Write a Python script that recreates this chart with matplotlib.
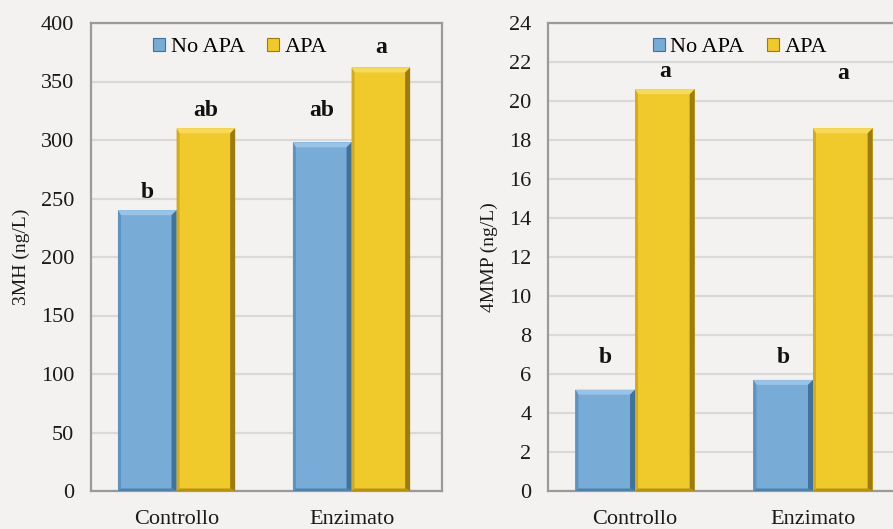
import matplotlib
matplotlib.use("Agg")
import matplotlib.pyplot as plt
from matplotlib.patches import Polygon, Patch
import numpy as np

plt.rcParams["font.family"] = ["Liberation Serif", "DejaVu Serif"]

categories = ["Controllo", "Enzimato"]
series_names = ["No APA", "APA"]

mh3_no_apa = [240, 298]
mh3_apa = [310, 362]
mh3_letters_no_apa = ["b", "ab"]
mh3_letters_apa = ["ab", "a"]
mh3_letter_y_no_apa = [255, 325]
mh3_letter_y_apa = [325, 379]

mmp4_no_apa = [5.2, 5.7]
mmp4_apa = [20.6, 18.6]
mmp4_letters_no_apa = ["b", "b"]
mmp4_letters_apa = ["a", "a"]
mmp4_letter_y_no_apa = [6.85, 6.85]
mmp4_letter_y_apa = [21.5, 21.4]

BG = "#f3f2f0"
BLUE = dict(face="#78acd6", top="#98c3e6", left="#5d93c0", right="#3f729d", bottom="#4d82ad")
GOLD = dict(face="#f0ca2a", top="#f6da58", left="#d4ab1c", right="#9c7b12", bottom="#b8920f")

W, H = 893, 529
fig = plt.figure(figsize=(W / 100, H / 100), dpi=100, facecolor=BG)


def bevel(ax, bars, pal, b=5):
    fig.canvas.draw()
    bb = ax.get_window_extent()
    x0, x1 = ax.get_xlim()
    y0, y1 = ax.get_ylim()
    sx = (x1 - x0) / bb.width
    sy = (y1 - y0) / bb.height
    dx, dy = b * sx, b * sy
    for r in bars:
        x, w, h = r.get_x(), r.get_width(), r.get_height()
        xl, xr = x, x + w
        polys = [
            ([(xl, h), (xr, h), (xr - dx, h - dy), (xl + dx * 0.6, h - dy)], pal["top"]),
            ([(xl, h), (xl, 0), (xl + dx * 0.6, dy * 0.5), (xl + dx * 0.6, h - dy)], pal["left"]),
            ([(xr, h), (xr, 0), (xr - dx, dy * 0.5), (xr - dx, h - dy)], pal["right"]),
            ([(xl, 0), (xr, 0), (xr - dx, dy * 0.5), (xl + dx * 0.6, dy * 0.5)], pal["bottom"]),
        ]
        for pts, c in polys:
            ax.add_patch(Polygon(pts, closed=True, facecolor=c, edgecolor="none", zorder=3))


def panel(rect, no_apa, apa, ymax, ystep, ylabel, letters, letter_y, xlim, leg_x, ypad):
    ax = fig.add_axes(rect, facecolor=BG)
    x = np.arange(len(categories))
    w = 0.335
    b1 = ax.bar(x - w / 2, no_apa, w, color=BLUE["face"], zorder=2)
    b2 = ax.bar(x + w / 2, apa, w, color=GOLD["face"], zorder=2)
    ax.set_xlim(*xlim)
    ax.set_ylim(0, ymax)
    ax.set_yticks(np.arange(0, ymax + ystep / 2, ystep))
    ax.yaxis.grid(True, color="#d9d9d9", lw=1.6, zorder=0)
    ax.set_axisbelow(True)
    ax.set_xticks(x)
    ax.set_xticklabels(categories, fontsize=16)
    ax.tick_params(length=0, labelsize=16, colors="#1a1a1a")
    ax.tick_params(axis="y", pad=ypad)
    ax.tick_params(axis="x", pad=14)
    for s in ax.spines.values():
        s.set_color("#9a9a9a")
        s.set_linewidth(1.6)
    ax.set_ylabel(ylabel, fontsize=14, color="#1a1a1a", labelpad=8)
    bevel(ax, list(b1), BLUE)
    bevel(ax, list(b2), GOLD)
    for bars, labs, ys in [(b1, letters[0], letter_y[0]), (b2, letters[1], letter_y[1])]:
        for r, t, yy in zip(bars, labs, ys):
            ax.text(r.get_x() + r.get_width() / 2, yy, t, ha="center", va="center",
                    fontsize=17, fontweight="bold", color="#111111", zorder=5)
    handles = [Patch(facecolor=BLUE["face"], edgecolor=BLUE["right"], lw=0.8),
               Patch(facecolor=GOLD["face"], edgecolor=GOLD["right"], lw=0.8)]
    ax.legend(handles, series_names, loc="center", bbox_to_anchor=(leg_x, 0.947), ncol=2,
              frameon=False, fontsize=16, handlelength=0.55, handleheight=0.5,
              handletextpad=0.25, columnspacing=1.0, borderpad=0, borderaxespad=0)
    return ax


bottom = (H - 491) / H
height = 468 / H
panel([91 / W, bottom, 351 / W, height], mh3_no_apa, mh3_apa, 400, 50, "3MH (ng/L)",
      (mh3_letters_no_apa, mh3_letters_apa), (mh3_letter_y_no_apa, mh3_letter_y_apa),
      (-0.489, 1.517), 0.425, 12)
panel([548 / W, bottom, 354 / W, height], mmp4_no_apa, mmp4_apa, 24, 2, "4MMP (ng/L)",
      (mmp4_letters_no_apa, mmp4_letters_apa), (mmp4_letter_y_no_apa, mmp4_letter_y_apa),
      (-0.489, 1.5), 0.542, 12)

fig.savefig("out.png", dpi=100, facecolor=BG)
